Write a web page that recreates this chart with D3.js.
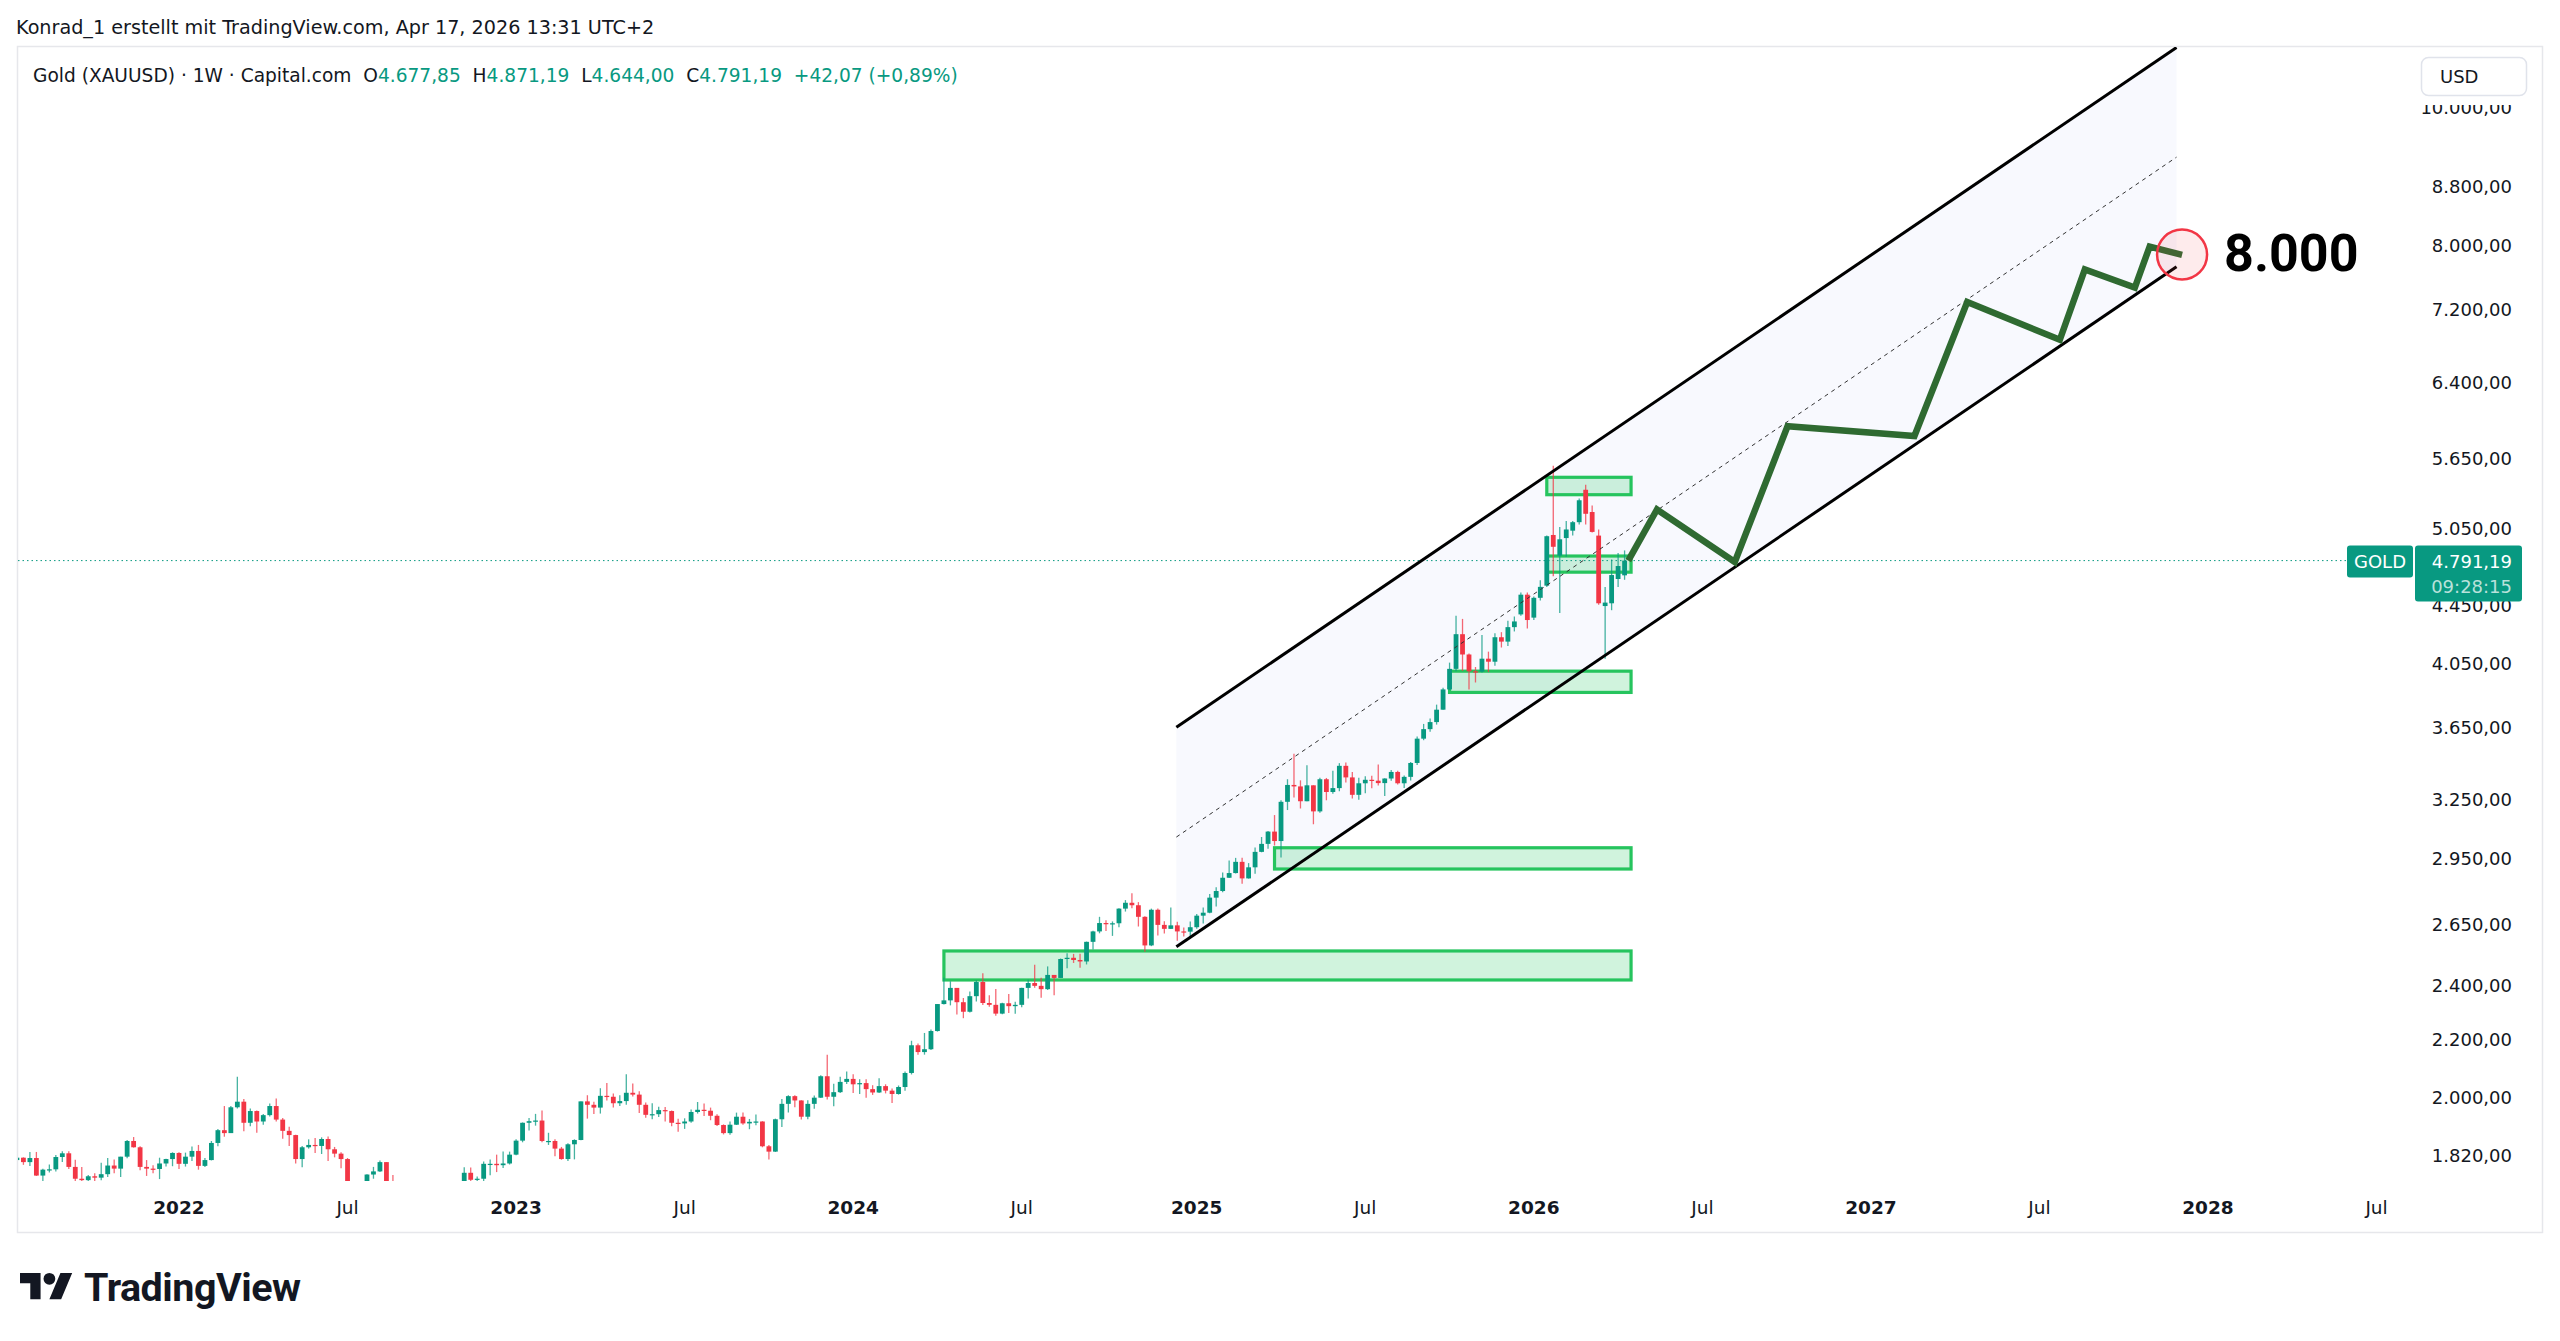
<!DOCTYPE html>
<html>
<head>
<meta charset="utf-8">
<script src="https://cdn.jsdelivr.net/npm/d3@7"></script>
<style>
  html, body { margin: 0; padding: 0; background: #ffffff; }
  svg { display: block; }
</style>
</head>
<body>
<svg id="chart" width="2560" height="1341"></svg>
<script>
// ---- weekly candles [open, high, low, close], one array per year ----
var firstWeeks = ["2021-07-12", "2022-01-03", "2023-01-02", "2024-01-01", "2025-01-06", "2026-01-05"];

var bars2021 = [
  [1808,1834,1795,1815],[1815,1816,1794,1802],[1802,1832,1791,1814],[1814,1832,1762,1763],
  [1763,1783,1687,1780],[1780,1795,1772,1781],[1781,1823,1775,1817],[1817,1834,1802,1828],
  [1828,1834,1782,1788],[1788,1809,1745,1754],[1754,1788,1738,1750],[1750,1765,1721,1761],
  [1761,1770,1746,1757],[1757,1800,1750,1767],[1767,1814,1759,1792],[1792,1810,1770,1783],
  [1783,1818,1759,1818],[1818,1868,1813,1865],[1865,1877,1845,1846],[1846,1849,1778,1788],
  [1788,1808,1762,1783],[1783,1793,1770,1782],[1782,1815,1753,1798],[1798,1812,1789,1811],
  [1811,1831,1790,1829]
];
var bars2022 = [
  [1829,1831,1782,1797],[1797,1830,1789,1818],[1818,1848,1805,1835],[1835,1853,1780,1791],
  [1791,1814,1788,1808],[1808,1865,1807,1859],[1859,1902,1849,1898],[1898,1974,1878,1889],
  [1889,1974,1889,1970],[1970,2070,1966,1988],[1988,1997,1895,1921],[1921,1966,1910,1958],
  [1958,1960,1890,1925],[1925,1949,1915,1945],[1945,1982,1941,1974],[1974,1998,1925,1931],
  [1931,1936,1872,1896],[1896,1909,1850,1883],[1883,1884,1798,1811],[1811,1850,1787,1846],
  [1846,1870,1842,1853],[1853,1874,1829,1850],[1850,1876,1826,1871],[1871,1879,1805,1840],
  [1840,1847,1816,1827],[1827,1831,1784,1811],[1811,1814,1732,1742],[1742,1745,1697,1703],
  [1703,1739,1681,1727],[1727,1767,1711,1766],[1766,1788,1754,1775],[1775,1807,1773,1802],
  [1802,1802,1745,1747],[1747,1765,1727,1737],[1737,1741,1688,1712],[1712,1729,1691,1717],
  [1717,1735,1654,1675],[1675,1688,1640,1644],[1644,1675,1615,1661],[1661,1729,1660,1695],
  [1695,1699,1640,1644],[1644,1668,1617,1657],[1657,1675,1640,1645],[1645,1681,1616,1681],
  [1681,1787,1675,1771],[1771,1786,1747,1751],[1751,1760,1727,1754],[1754,1804,1739,1797],
  [1797,1810,1764,1797],[1797,1824,1773,1793],[1793,1833,1785,1798],[1798,1833,1795,1824]
];
var bars2023 = [
  [1824,1870,1822,1866],[1866,1922,1861,1921],[1921,1936,1897,1926],[1926,1949,1912,1928],
  [1928,1960,1861,1865],[1865,1890,1853,1865],[1865,1870,1819,1842],[1842,1847,1809,1811],
  [1811,1858,1805,1855],[1855,1870,1810,1868],[1868,1989,1867,1989],[1989,2009,1934,1978],
  [1978,1988,1949,1969],[1969,2032,1950,2007],[2007,2049,1992,2004],[2004,2015,1969,1983],
  [1983,2009,1974,1990],[1990,2079,1978,2017],[2017,2048,2005,2011],[2011,2022,1952,1978],
  [1978,1985,1937,1946],[1946,1983,1932,1948],[1948,1972,1939,1961],[1961,1971,1925,1958],
  [1958,1960,1910,1921],[1921,1934,1893,1919],[1919,1935,1902,1925],[1925,1963,1921,1955],
  [1955,1987,1950,1962],[1962,1982,1942,1959],[1959,1969,1929,1943],[1943,1948,1911,1914],
  [1914,1916,1885,1889],[1889,1925,1884,1915],[1915,1953,1914,1940],[1940,1953,1915,1919],
  [1919,1933,1901,1924],[1924,1947,1913,1925],[1925,1926,1846,1849],[1849,1853,1810,1833],
  [1833,1934,1832,1932],[1932,1997,1908,1981],[1981,2009,1953,2006],[2006,2009,1970,1992],
  [1992,1993,1931,1940],[1940,1993,1932,1981],[1981,2008,1965,2001],[2001,2075,2000,2072],
  [2072,2146,1995,2004],[2004,2047,1973,2019],[2019,2070,2016,2053],[2053,2088,2046,2063]
];
var bars2024 = [
  [2063,2079,2016,2045],[2045,2062,2013,2049],[2049,2062,2001,2029],[2029,2042,2010,2018],
  [2018,2065,2016,2039],[2039,2045,2015,2024],[2024,2031,1984,2013],[2013,2041,2011,2036],
  [2036,2088,2024,2083],[2083,2195,2078,2179],[2179,2185,2146,2155],[2155,2223,2146,2165],
  [2165,2236,2162,2230],[2230,2330,2228,2330],[2330,2432,2328,2344],[2344,2418,2325,2392],
  [2392,2392,2291,2337],[2337,2353,2277,2301],[2301,2378,2298,2360],[2360,2422,2340,2415],
  [2415,2450,2326,2334],[2334,2364,2320,2327],[2327,2388,2286,2294],[2294,2335,2292,2333],
  [2333,2368,2296,2322],[2322,2339,2294,2327],[2327,2393,2318,2392],[2392,2424,2351,2411],
  [2411,2484,2393,2400],[2400,2432,2354,2387],[2387,2477,2384,2443],[2443,2443,2364,2431],
  [2431,2509,2431,2507],[2507,2531,2470,2512],[2512,2528,2491,2503],[2503,2529,2472,2497],
  [2497,2579,2485,2578],[2578,2625,2546,2622],[2622,2685,2614,2658],[2658,2670,2624,2653],
  [2653,2665,2603,2657],[2657,2723,2640,2721],[2721,2759,2708,2747],[2747,2790,2723,2736],
  [2736,2750,2643,2685],[2685,2688,2537,2563],[2563,2721,2560,2716],[2716,2722,2605,2650],
  [2650,2666,2613,2633],[2633,2726,2632,2648],[2648,2664,2583,2622],[2622,2639,2600,2621],
  [2621,2665,2596,2640]
];
var bars2025 = [
  [2640,2697,2633,2690],[2690,2726,2656,2703],[2703,2786,2701,2770],[2770,2817,2730,2800],
  [2800,2886,2794,2861],[2861,2942,2860,2883],[2883,2955,2881,2936],[2936,2956,2833,2858],
  [2858,2930,2857,2910],[2910,3005,2880,2984],[2984,3057,2982,3023],[3023,3087,2999,3084],
  [3084,3168,3015,3037],[3037,3245,2957,3237],[3237,3358,3194,3327],[3327,3500,3260,3319],
  [3319,3352,3202,3240],[3240,3435,3240,3325],[3325,3325,3121,3187],[3187,3366,3180,3358],
  [3358,3365,3245,3289],[3289,3404,3280,3310],[3310,3447,3293,3432],[3432,3451,3340,3368],
  [3368,3398,3255,3274],[3274,3366,3248,3336],[3336,3374,3283,3355],[3355,3377,3309,3350],
  [3350,3439,3324,3337],[3337,3363,3268,3362],[3362,3409,3350,3398],[3398,3404,3330,3336],
  [3336,3379,3311,3371],[3371,3453,3351,3448],[3448,3600,3436,3587],[3587,3674,3578,3643],
  [3643,3707,3627,3685],[3685,3791,3670,3760],[3760,3897,3760,3886],[3886,4059,3883,4018],
  [4018,4381,4002,4251],[4251,4358,4004,4113],[4113,4120,3886,4002],[4002,4030,3930,4000],
  [4000,4245,3995,4085],[4085,4132,3997,4065],[4065,4257,4038,4230],[4230,4265,4160,4200],
  [4200,4345,4170,4300],[4300,4375,4270,4340],[4390,4550,4380,4533],[4533,4550,4290,4350]
];
var bars2026 = [
  [4367,4520,4350,4510],[4510,4640,4490,4591],[4600,4990,4590,4985],[4995,5590,4670,4900],
  [4830,5060,4400,4960],[4970,5110,4822,5040],[5030,5110,4990,5100],[5100,5300,5080,5285],
  [5376,5420,5080,5170],[5185,5240,5015,5020],[4990,5040,4460,4470],[4450,4590,4085,4475],
  [4470,4800,4420,4680],[4650,4850,4590,4749.12],[4677.85,4871.19,4644.00,4791.19]
];

// ---- axis ticks ----
var priceTicks = [1820, 2000, 2200, 2400, 2650, 2950, 3250, 3650, 4050, 4450, 5050, 5650, 6400, 7200, 8000, 8800, 10000];
var timeTickDates = ["2022-01-03","2022-07-04","2023-01-02","2023-07-03","2024-01-01","2024-07-01","2025-01-06",
                     "2025-07-07","2026-01-05","2026-07-06","2027-01-04","2027-07-05","2028-01-03","2028-07-03"];
var timeTickLabels = ["2022","Jul","2023","Jul","2024","Jul","2025","Jul","2026","Jul","2027","Jul","2028","Jul"];

// ---- drawings ----
var channelDates = ["2024-12-15", "2027-11-30"];
var channelLower = [2557, 7724];
var channelUpper = [3654, 11034];

var zoneStart = ["2024-04-08", "2025-03-31", "2025-10-06", "2026-01-19", "2026-01-19"];
var zoneEnd = "2026-04-20";
var zoneTop = [2540, 3004, 4003, 4827, 5486];
var zoneBottom = [2423, 2902, 3867, 4702, 5333];

var pathDates = ["2026-04-17","2026-05-18","2026-08-10","2026-10-06","2027-02-20","2027-04-18",
                 "2027-07-27","2027-08-23","2027-10-16","2027-11-01","2027-12-06"];
var pathPrices = [4791, 5206, 4780, 5961, 5867, 7294, 6861, 7691, 7469, 7983, 7876];

var targetDate = "2027-12-06";
var targetPrice = 7880;
var targetLabel = "8.000";

var symbolTitle = "Gold (XAUUSD) · 1W · Capital.com";
var headerText = "Konrad_1 erstellt mit TradingView.com, Apr 17, 2026 13:31 UTC+2";
var countdown = "09:28:15";

// ---- setup ----
var upColor = "#089981", downColor = "#f23645", textColor = "#131722";
var uiFont = "'DejaVu Sans', sans-serif";
var plot = { left: 18, right: 2420, top: 47, bottom: 1181 };

var parseDay = d3.timeParse("%Y-%m-%d");
var de = d3.formatLocale({ decimal: ",", thousands: ".", grouping: [3], currency: ["", ""] });
var fmtPrice = de.format(",.2f");
var fmtChange = de.format("+,.2f");

var bars = [];
[bars2021, bars2022, bars2023, bars2024, bars2025, bars2026].forEach(function (yr, k) {
  var d0 = parseDay(firstWeeks[k]);
  yr.forEach(function (b, i) {
    bars.push({ date: d3.timeDay.offset(d0, 7 * i), o: b[0], h: b[1], l: b[2], c: b[3] });
  });
});
var last = bars[bars.length - 1], prev = bars[bars.length - 2];

var x = d3.scaleTime()
  .domain([parseDay("2022-01-03"), parseDay("2028-01-03")])
  .range([179, 2208]);
var y = d3.scaleLog()
  .domain([1820, 10000])
  .range([1156, 108]);

var svg = d3.select("#chart");

svg.append("defs").append("clipPath").attr("id", "plotClip")
  .append("rect")
  .attr("x", plot.left).attr("y", plot.top)
  .attr("width", plot.right - plot.left).attr("height", plot.bottom - plot.top);

// header above the panel
svg.append("text")
  .attr("x", 16).attr("y", 27).attr("dy", "0.35em")
  .style("font-family", uiFont).style("font-size", "19.2px").style("fill", textColor)
  .text(headerText);

// panel frame
svg.append("rect")
  .attr("x", 17.5).attr("y", 46.5).attr("width", 2525).attr("height", 1186)
  .style("fill", "#ffffff").style("stroke", "#e6e7eb").style("stroke-width", 1.5);

var plotG = svg.append("g").attr("clip-path", "url(#plotClip)");

// channel shading
var cx0 = x(parseDay(channelDates[0])), cx1 = x(parseDay(channelDates[1]));
var lo0 = y(channelLower[0]), lo1 = y(channelLower[1]);
var up0 = y(channelUpper[0]), up1 = y(channelUpper[1]);
plotG.append("path")
  .attr("d", "M" + cx0 + "," + up0 + "L" + cx1 + "," + up1 + "L" + cx1 + "," + lo1 + "L" + cx0 + "," + lo0 + "Z")
  .style("fill", "rgba(80,100,240,0.04)");

// zones (under candles)
zoneStart.forEach(function (s, i) {
  var x0 = x(parseDay(s)), x1 = x(parseDay(zoneEnd));
  plotG.append("rect")
    .attr("x", x0).attr("y", y(zoneTop[i]))
    .attr("width", x1 - x0).attr("height", y(zoneBottom[i]) - y(zoneTop[i]))
    .style("fill", "rgba(40,200,100,0.22)")
    .style("stroke", "#26c45e").style("stroke-width", 3.2);
});

// current price line
plotG.append("line")
  .attr("x1", plot.left).attr("x2", 2347)
  .attr("y1", y(last.c)).attr("y2", y(last.c))
  .style("stroke", upColor).style("stroke-width", 1).style("stroke-dasharray", "1.5,3");

// candles
var bodyW = 4.8;
plotG.selectAll("line.wick").data(bars).enter().append("line")
  .attr("class", "wick")
  .attr("x1", function (d) { return x(d.date); })
  .attr("x2", function (d) { return x(d.date); })
  .attr("y1", function (d) { return y(d.h); })
  .attr("y2", function (d) { return y(d.l); })
  .style("stroke", function (d) { return d.c >= d.o ? upColor : downColor; })
  .style("stroke-opacity", 0.75)
  .style("stroke-width", 1.3);

plotG.selectAll("rect.body").data(bars).enter().append("rect")
  .attr("class", "body")
  .attr("x", function (d) { return x(d.date) - bodyW / 2; })
  .attr("y", function (d) { return y(Math.max(d.o, d.c)); })
  .attr("width", bodyW)
  .attr("height", function (d) { return Math.max(1.2, Math.abs(y(d.o) - y(d.c))); })
  .style("fill", function (d) { return d.c >= d.o ? upColor : downColor; });

// channel lines
plotG.append("line")
  .attr("x1", cx0).attr("y1", up0).attr("x2", cx1).attr("y2", up1)
  .style("stroke", "#000").style("stroke-width", 3);
plotG.append("line")
  .attr("x1", cx0).attr("y1", lo0).attr("x2", cx1).attr("y2", lo1)
  .style("stroke", "#000").style("stroke-width", 3);
plotG.append("line")
  .attr("x1", cx0).attr("y1", (up0 + lo0) / 2).attr("x2", cx1).attr("y2", (up1 + lo1) / 2)
  .style("stroke", "#333").style("stroke-width", 1).style("stroke-dasharray", "4,4");

// projection path
var proj = pathDates.map(function (d, i) { return [x(parseDay(d)), y(pathPrices[i])]; });
plotG.append("path")
  .attr("d", d3.line()(proj))
  .style("fill", "none").style("stroke", "#2f6a31").style("stroke-width", 6.5)
  .style("stroke-linejoin", "miter");

// target circle and label
var tx = x(parseDay(targetDate)), ty = y(targetPrice);
plotG.append("circle")
  .attr("cx", tx).attr("cy", ty).attr("r", 25)
  .style("fill", "rgba(242,54,69,0.1)").style("stroke", "#f23645").style("stroke-width", 2.5);
plotG.append("text")
  .attr("x", tx + 42).attr("y", ty + 16)
  .style("font-family", "Roboto, sans-serif").style("font-weight", 700).style("font-size", "52px")
  .style("fill", "#000")
  .text(targetLabel);

// symbol legend
var legend = svg.append("text")
  .attr("x", 33).attr("y", 75).attr("dy", "0.35em")
  .style("font-family", uiFont).style("font-size", "18.6px").style("white-space", "pre");
var legendParts = [
  [symbolTitle, textColor], ["  O", textColor], [fmtPrice(last.o), upColor],
  ["  H", textColor], [fmtPrice(last.h), upColor],
  ["  L", textColor], [fmtPrice(last.l), upColor],
  ["  C", textColor], [fmtPrice(last.c), upColor],
  ["  " + fmtChange(last.c - prev.c) + " (" + de.format("+.2f")((last.c - prev.c) / prev.c * 100) + "%)", upColor]
];
legendParts.forEach(function (p) {
  legend.append("tspan").style("fill", p[1]).text(p[0]);
});

// price axis labels
svg.selectAll("text.ptick").data(priceTicks).enter().append("text")
  .attr("class", "ptick")
  .attr("x", 2512).attr("y", function (d) { return y(d); }).attr("dy", "0.35em")
  .attr("text-anchor", "end")
  .style("font-family", uiFont).style("font-size", "18px").style("fill", textColor)
  .text(function (d) { return fmtPrice(d); });

// USD button
svg.append("rect").attr("x", 2419).attr("y", 55).attr("width", 112).attr("height", 50).style("fill", "#fff");
svg.append("rect")
  .attr("x", 2421.5).attr("y", 57.5).attr("width", 105).attr("height", 38).attr("rx", 7)
  .style("fill", "#fff").style("stroke", "#e0e3eb").style("stroke-width", 1.5);
svg.append("text")
  .attr("x", 2440).attr("y", 77).attr("dy", "0.35em")
  .style("font-family", uiFont).style("font-size", "18px").style("fill", textColor)
  .text("USD");

// time axis labels
svg.selectAll("text.ttick").data(timeTickDates).enter().append("text")
  .attr("class", "ttick")
  .attr("x", function (d) { return x(parseDay(d)); })
  .attr("y", 1208).attr("dy", "0.35em")
  .attr("text-anchor", "middle")
  .style("font-family", uiFont).style("font-size", "18.5px").style("fill", textColor)
  .style("font-weight", function (d, i) { return timeTickLabels[i] === "Jul" ? 400 : 700; })
  .text(function (d, i) { return timeTickLabels[i]; });

// last price tags
var py = y(last.c);
svg.append("rect")
  .attr("x", 2347).attr("y", py - 15).attr("width", 66).attr("height", 32).attr("rx", 3)
  .style("fill", upColor);
svg.append("text")
  .attr("x", 2380).attr("y", py + 1).attr("dy", "0.35em").attr("text-anchor", "middle")
  .style("font-family", uiFont).style("font-size", "18px").style("fill", "#fff")
  .text("GOLD");
svg.append("rect")
  .attr("x", 2415).attr("y", py - 15).attr("width", 107).attr("height", 56).attr("rx", 3)
  .style("fill", upColor);
svg.append("text")
  .attr("x", 2512).attr("y", py + 1).attr("dy", "0.35em").attr("text-anchor", "end")
  .style("font-family", uiFont).style("font-size", "18px").style("fill", "#fff")
  .text(fmtPrice(last.c));
svg.append("text")
  .attr("x", 2512).attr("y", py + 26).attr("dy", "0.35em").attr("text-anchor", "end")
  .style("font-family", uiFont).style("font-size", "18px").style("fill", "rgba(255,255,255,0.72)")
  .text(countdown);

// TradingView logo
var logo = svg.append("g").attr("transform", "translate(20,1267) scale(1.47)").style("fill", "#131722");
logo.append("path").attr("d", "M14 22H7V11H0V4h14v18zM28 22h-8l7.5-18h8L28 22z");
logo.append("circle").attr("cx", 20).attr("cy", 8).attr("r", 4);
svg.append("text")
  .attr("x", 84).attr("y", 1301)
  .style("font-family", "Roboto, sans-serif").style("font-weight", 700).style("font-size", "39.5px")
  .style("letter-spacing", "-0.5px").style("fill", "#131722")
  .text("TradingView");
</script>
</body>
</html>
